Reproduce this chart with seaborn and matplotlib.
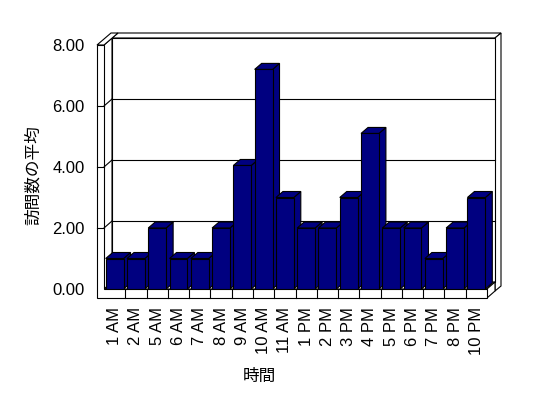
import matplotlib
matplotlib.use("Agg")
import matplotlib.pyplot as plt
import seaborn as sns
import pandas as pd
from matplotlib.patches import Polygon, Rectangle
from matplotlib.lines import Line2D
from matplotlib.transforms import IdentityTransform

hours = ["1 AM", "2 AM", "5 AM", "6 AM", "7 AM", "8 AM", "9 AM", "10 AM", "11 AM",
         "1 PM", "2 PM", "3 PM", "4 PM", "5 PM", "6 PM", "7 PM", "8 PM", "10 PM"]
visits = [1, 1, 2, 1, 1, 2, 4.05, 7.2, 3, 2, 2, 3, 5.1, 2, 2, 1, 2, 3]
yticks = [0, 2, 4, 6, 8]
xlabel = "時間"
ylabel = "訪問数の平均"

plt.rcParams['font.family'] = ['Liberation Sans', 'Noto Sans CJK JP', 'DejaVu Sans']

W, H = 548, 398
fig = plt.figure(figsize=(W / 100, H / 100), dpi=100)
fig.patch.set_facecolor("white")
L, R, T, B = 104, 487, 45, 289
ax = fig.add_axes([L / W, (H - B) / H, (R - L) / W, (B - T) / H])

df = pd.DataFrame({"hour": hours, "visits": visits})
sns.barplot(data=df, x="hour", y="visits", color="#000080", saturation=1,
            width=0.84, edgecolor="black", linewidth=0.8, errorbar=None, ax=ax)
bars = sorted([p for p in ax.patches if isinstance(p, Rectangle)], key=lambda p: p.get_x())

ax.set_xlim(-0.5, len(hours) - 0.5)
ax.set_ylim(0, 8)
ax.set_autoscale_on(False)
ax.patch.set_visible(False)
for s in ax.spines.values():
    s.set_visible(False)
ax.set_xlabel("")
ax.set_ylabel("")
ax.set_yticks(yticks)
ax.set_yticklabels([f"{v:.2f}" for v in yticks])
ax.tick_params(axis='y', length=0, pad=14, labelsize=12)
ax.tick_params(axis='x', length=0, pad=13, labelsize=12, rotation=90)

ident = IdentityTransform()
td = ax.transData
fx0, fy0 = td.transform((-0.5, 0))
fx1, fy8 = td.transform((len(hours) - 0.5, 8))
DX, DY = 8, 7
BX, BY = 6, 5
WT, FT = 7, 9
LW = 0.8


def poly(pts, z, fc="white"):
    p = Polygon(pts, closed=True, facecolor=fc, edgecolor="black", linewidth=LW,
                transform=ident, clip_on=False, zorder=z, joinstyle="miter")
    ax.add_artist(p)


def line(x, y, z):
    ln = Line2D(x, y, color="black", linewidth=LW, transform=ident, clip_on=False, zorder=z)
    ax.add_artist(ln)


# back wall
poly([(fx0 + DX, fy8 + DY), (fx1 + DX, fy8 + DY), (fx1 + DX + BX, fy8 + DY + BY),
      (fx0 + DX + BX, fy8 + DY + BY)], 1.0)
poly([(fx1 + DX, fy8 + DY), (fx1 + DX + BX, fy8 + DY + BY),
      (fx1 + DX + BX, fy0 - FT + DY + BY), (fx1 + DX, fy0 - FT + DY)], 1.0)
poly([(fx0 + DX, fy0 + DY), (fx1 + DX, fy0 + DY), (fx1 + DX, fy8 + DY), (fx0 + DX, fy8 + DY)], 1.01)
# floor
poly([(fx0, fy0), (fx1, fy0), (fx1 + DX, fy0 + DY), (fx0 + DX, fy0 + DY)], 1.02)
poly([(fx1, fy0), (fx1 + DX, fy0 + DY), (fx1 + DX, fy0 - FT + DY), (fx1, fy0 - FT)], 1.02)
# left wall
poly([(fx0, fy0), (fx0, fy8), (fx0 + DX, fy8 + DY), (fx0 + DX, fy0 + DY)], 1.03)
poly([(fx0 - WT, fy8), (fx0, fy8), (fx0 + DX + BX, fy8 + DY + BY),
      (fx0 - WT + DX + BX, fy8 + DY + BY)], 1.03)
poly([(fx0 - WT, fy0 - FT), (fx1, fy0 - FT), (fx1, fy0), (fx0, fy0), (fx0, fy8),
      (fx0 - WT, fy8)], 1.04)

# floor front cells
for i in range(len(hours) - 1):
    bx = td.transform((i + 0.5, 0))[0]
    line([bx, bx], [fy0, fy0 - FT], 1.05)

# gridlines
for v in yticks[1:-1]:
    py = td.transform((0, v))[1]
    line([fx0 - WT, fx0], [py, py], 1.1)
    line([fx0, fx0 + DX], [py, py + DY], 1.1)
    line([fx0 + DX, fx1 + DX], [py + DY, py + DY], 1.1)

# 3D bars
bdx, bdy = 7, 6
for i, p in enumerate(bars):
    x0, w, h = p.get_x(), p.get_width(), p.get_height()
    bx0, by0 = td.transform((x0, 0))
    bx1, by1 = td.transform((x0 + w, h))
    z = 3 + i * 0.01
    poly([(bx1, by0), (bx1, by1), (bx1 + bdx, by1 + bdy), (bx1 + bdx, by0 + bdy)], z, "#000080")
    poly([(bx0, by1), (bx1, by1), (bx1 + bdx, by1 + bdy), (bx0 + bdx, by1 + bdy)], z, "#000080")
    p.set_zorder(z + 0.005)
    p.set_linewidth(LW)

fig.text(33 / W, 1 - 175 / H, ylabel, rotation=90, ha="center", va="center", fontsize=12)
fig.text(259 / W, 1 - 376 / H, xlabel, ha="center", va="center", fontsize=12)

fig.savefig("out.png", dpi=100, facecolor="white")
